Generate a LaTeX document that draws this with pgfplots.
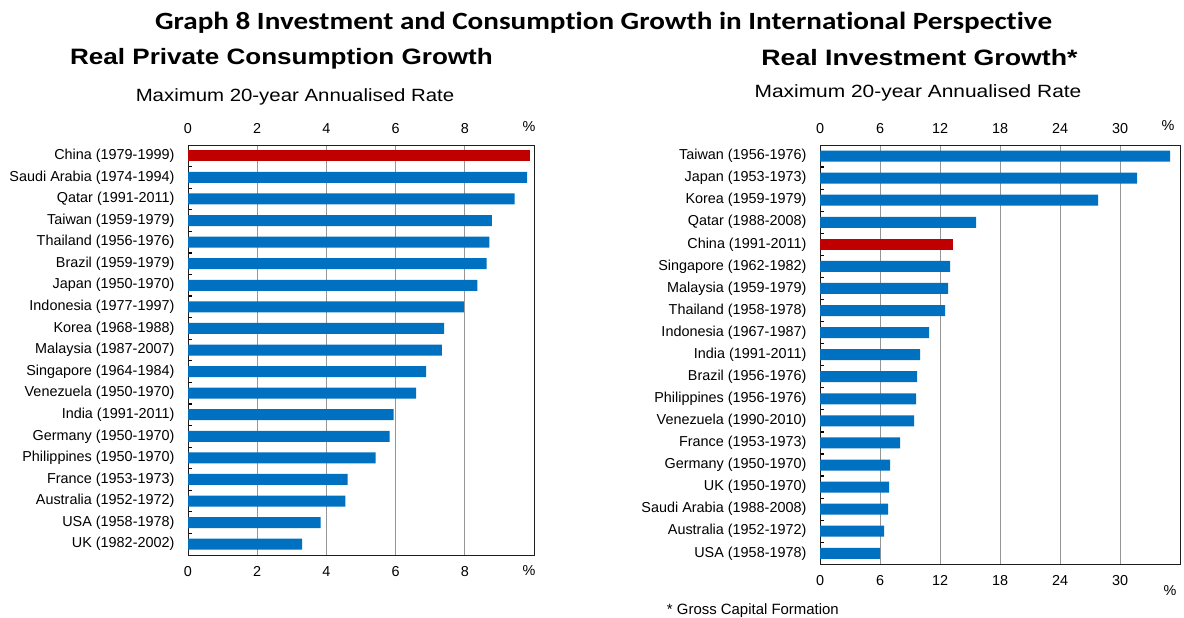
\documentclass[border=0pt]{standalone}
\usepackage{pgfplots}
\pgfplotsset{compat=1.18}
\usepackage{graphicx}
\usepackage{fontspec}
\setmainfont{Liberation Sans}
\newfontfamily\calibri[Ligatures=NoCommon]{Carlito}
\definecolor{barblue}{RGB}{0,112,192}
\definecolor{barred}{RGB}{192,0,0}
\definecolor{gridgray}{RGB}{150,150,150}
\definecolor{framegray}{RGB}{30,30,30}

\pgfplotsset{
  panel/.style={
    xbar, scale only axis, anchor=north west,
    y dir=reverse, ymin=-0.5, ymax=18.5,
    ytick={0.5,1.5,...,17.5}, yticklabels={},
    ytick pos=left,
    major tick length=3.2pt, tick align=inside,
    ytick style={black, line width=0.9pt},
    xtick style={draw=none},
    extra y ticks={0,...,18},
    extra y tick style={major tick length=0pt, ytick style={draw=none}},
    xmajorgrids, grid style={gridgray, line width=0.75pt},
    axis line style={framegray, line width=0.75pt},
    bar width=8.25pt,
    tick label style={font=\fontsize{10.8pt}{12pt}\selectfont},
    /pgf/number format/assume math mode=true,
    yticklabel style={inner sep=0pt, xshift=-10pt},
    xticklabel style={yshift=-5pt},
  },
  toplabels/.style={
    scale only axis, anchor=north west,
    ymin=0, ymax=1, ytick=\empty,
    xticklabel pos=upper,
    axis line style={draw=none},
    major tick length=0pt,
    tick label style={font=\fontsize{10.8pt}{12pt}\selectfont},
    /pgf/number format/assume math mode=true,
    xticklabel style={yshift=5pt},
  },
}

\begin{document}
\begin{tikzpicture}
\useasboundingbox (0pt,0pt) rectangle (888pt,-462.75pt);

% ---------- Left panel ----------
\begin{axis}[panel, at={(141pt,-108.75pt)}, width=259.5pt, height=307.5pt,
  xmin=0, xmax=10, xtick={0,2,...,8},
  extra y tick labels={China (1979-1999),Saudi Arabia (1974-1994),Qatar (1991-2011),Taiwan (1959-1979),Thailand (1956-1976),Brazil (1959-1979),Japan (1950-1970),Indonesia (1977-1997),Korea (1968-1988),Malaysia (1987-2007),Singapore (1964-1984),Venezuela (1950-1970),India (1991-2011),Germany (1950-1970),Philippines (1950-1970),France (1953-1973),Australia (1952-1972),USA (1958-1978),UK (1982-2002)}]
\addplot[draw=none, fill=barblue, bar shift=0pt] coordinates {
 (9.80,1) (9.44,2) (8.78,3) (8.71,4) (8.63,5) (8.36,6) (7.97,7) (7.40,8)
 (7.34,9) (6.88,10) (6.59,11) (5.94,12) (5.83,13) (5.42,14) (4.61,15)
 (4.55,16) (3.83,17) (3.30,18)};
\addplot[draw=none, fill=barred, bar shift=0pt] coordinates {(9.87,0)};
\end{axis}
\begin{axis}[toplabels, at={(141pt,-108.75pt)}, width=259.5pt, height=307.5pt,
  xmin=0, xmax=10, xtick={0,2,...,8}]
\end{axis}

% ---------- Right panel ----------
\begin{axis}[panel, at={(615pt,-108.75pt)}, width=270pt, height=314.5pt,
  xmin=0, xmax=36, xtick={0,6,...,30},
  extra y tick labels={Taiwan (1956-1976),Japan (1953-1973),Korea (1959-1979),Qatar (1988-2008),China (1991-2011),Singapore (1962-1982),Malaysia (1959-1979),Thailand (1958-1978),Indonesia (1967-1987),India (1991-2011),Brazil (1956-1976),Philippines (1956-1976),Venezuela (1990-2010),France (1953-1973),Germany (1950-1970),UK (1950-1970),Saudi Arabia (1988-2008),Australia (1952-1972),USA (1958-1978)}]
\addplot[draw=none, fill=barblue, bar shift=0pt] coordinates {
 (35.0,0) (31.7,1) (27.8,2) (15.6,3) (13.0,5) (12.8,6) (12.5,7) (10.9,8)
 (10.0,9) (9.7,10) (9.6,11) (9.4,12) (8.0,13) (7.0,14) (6.9,15) (6.8,16)
 (6.4,17) (6.0,18)};
\addplot[draw=none, fill=barred, bar shift=0pt] coordinates {(13.3,4)};
\end{axis}
\begin{axis}[toplabels, at={(615pt,-108.75pt)}, width=270pt, height=314.5pt,
  xmin=0, xmax=36, xtick={0,6,...,30}]
\end{axis}

% ---------- Texts ----------
\begin{scope}[x=0.75pt, y=-0.75pt]
\node[anchor=base, inner sep=0pt] at (603.5,29.3)
  {\scalebox{1.175}[1]{\calibri\bfseries\fontsize{18.6pt}{22pt}\selectfont Graph 8 Investment and Consumption Growth in International Perspective}};
\node[anchor=base, inner sep=0pt] at (281.5,64.3)
  {\scalebox{1.17}[1]{\bfseries\fontsize{16.7pt}{20pt}\selectfont Real Private Consumption Growth}};
\node[anchor=base, inner sep=0pt] at (919.5,65.5)
  {\scalebox{1.2}[1]{\bfseries\fontsize{16.7pt}{20pt}\selectfont Real Investment Growth*}};
\node[anchor=base, inner sep=0pt] at (295,101)
  {\scalebox{1.15}[1]{\fontsize{13.3pt}{16pt}\selectfont Maximum 20-year Annualised Rate}};
\node[anchor=base, inner sep=0pt] at (918,98)
  {\scalebox{1.18}[1]{\fontsize{13.3pt}{16pt}\selectfont Maximum 20-year Annualised Rate}};
\node[anchor=base, inner sep=0pt, font=\fontsize{10.8pt}{12pt}\selectfont] at (529,131) {\%};
\node[anchor=base, inner sep=0pt, font=\fontsize{10.8pt}{12pt}\selectfont] at (529,575) {\%};
\node[anchor=base, inner sep=0pt, font=\fontsize{10.8pt}{12pt}\selectfont] at (1168,130.7) {\%};
\node[anchor=base, inner sep=0pt, font=\fontsize{10.8pt}{12pt}\selectfont] at (1170,595) {\%};
\node[anchor=base west, inner sep=0pt, font=\fontsize{11.2pt}{13pt}\selectfont] at (666.7,614) {* Gross Capital Formation};
\end{scope}
\end{tikzpicture}
\end{document}
